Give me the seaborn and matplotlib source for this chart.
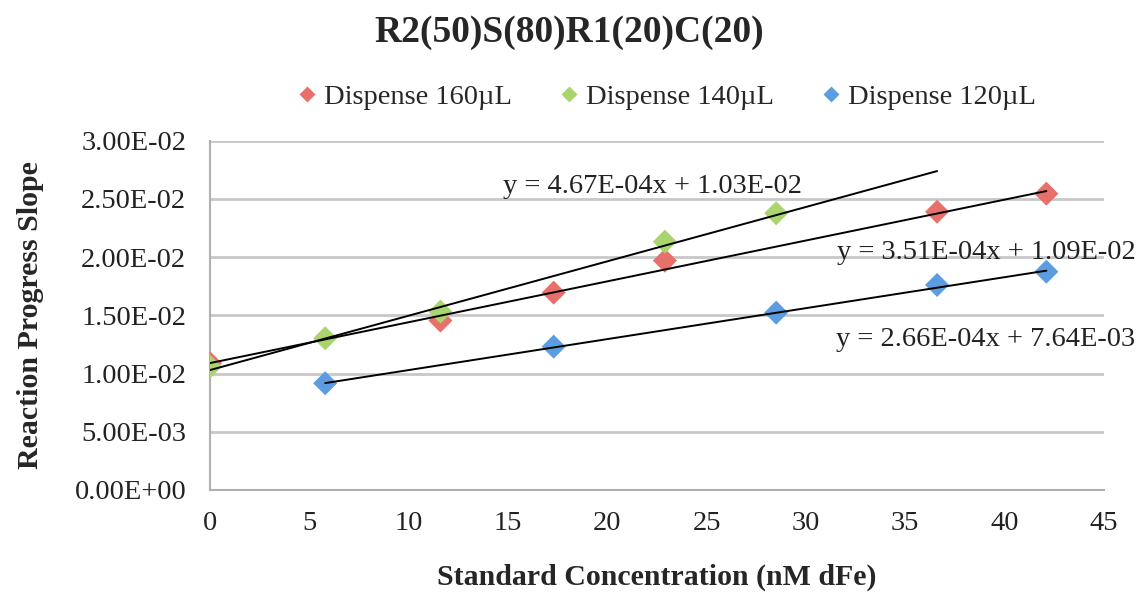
import numpy as np
import pandas as pd
import matplotlib
matplotlib.use("Agg")
import matplotlib.pyplot as plt
import seaborn as sns

# data
x_160 = [0, 11.6, 17.3, 22.9, 36.6, 42.1]
y_160 = [0.0109, 0.01455, 0.01695, 0.0197, 0.0239, 0.02545]
x_140 = [0, 5.8, 11.6, 22.9, 28.5]
y_140 = [0.0106, 0.01303, 0.01532, 0.02133, 0.02377]
x_120 = [5.8, 17.3, 28.5, 36.6, 42.1]
y_120 = [0.00917, 0.01231, 0.01523, 0.01761, 0.01875]

series_names = ["Dispense 160µL", "Dispense 140µL", "Dispense 120µL"]
series_colors = ["#E8706A", "#A9D46E", "#5C9CE0"]

# linear trendlines as printed on the chart
trend_slope = [3.51e-4, 4.67e-4, 2.66e-4]
trend_icpt = [1.09e-2, 1.03e-2, 7.64e-3]
trend_xmin = [0, 0, 5.8]
trend_xmax = [42.1, 36.6, 42.1]
trend_labels = ["y = 3.51E-04x + 1.09E-02",
                "y = 4.67E-04x + 1.03E-02",
                "y = 2.66E-04x + 7.64E-03"]

df = pd.concat([
    pd.DataFrame({"x": x_160, "y": y_160, "series": series_names[0]}),
    pd.DataFrame({"x": x_140, "y": y_140, "series": series_names[1]}),
    pd.DataFrame({"x": x_120, "y": y_120, "series": series_names[2]}),
], ignore_index=True)

sns.set_style("white")
plt.rcParams["font.family"] = ["Liberation Serif", "DejaVu Serif"]

fig = plt.figure(figsize=(11.38, 5.92), dpi=100)
ax = fig.add_axes([0.1845, 0.1723, 0.7856, 0.59])

sns.scatterplot(data=df, x="x", y="y", hue="series", hue_order=series_names,
                palette=series_colors, marker="D", s=150, edgecolor="none",
                ax=ax, zorder=3, legend=True)

for k in range(3):
    xs = np.array([trend_xmin[k], trend_xmax[k]])
    ax.plot(xs, trend_slope[k] * xs + trend_icpt[k], color="black", lw=1.4, zorder=4)

ax.set_xlim(0, 45)
ax.set_ylim(0, 0.03)
ax.set_xticks(np.arange(0, 46, 5))
ax.set_yticks(np.arange(0, 0.0301, 0.005))
ax.yaxis.set_major_formatter(matplotlib.ticker.FuncFormatter(
    lambda v, p: f"{v:.2E}"))
ax.yaxis.grid(True, color="#c8c8c8", lw=2)
ax.set_axisbelow(True)
for side in ["top", "right"]:
    ax.spines[side].set_visible(False)
for side in ["left", "bottom"]:
    ax.spines[side].set_color("#b0b0b0")
    ax.spines[side].set_linewidth(1.5)
ax.tick_params(axis="both", direction="out", length=7, width=1.5,
               color="#b0b0b0", labelsize=20.5, labelcolor="#222222")
ax.tick_params(axis="x", pad=8)
ax.tick_params(axis="y", pad=10)

ax.set_xlabel("Standard Concentration (nM dFe)", fontsize=21.5, fontweight="bold",
              labelpad=20)
ax.set_ylabel("Reaction Progress Slope", fontsize=21.5, fontweight="bold", labelpad=22)

ax.text(0.328, 0.87, trend_labels[1], transform=ax.transAxes, fontsize=20.5,
        ha="left", va="center", color="#222222")
ax.text(1.035, 0.68, trend_labels[0], transform=ax.transAxes, fontsize=20.5,
        ha="right", va="center", color="#222222")
ax.text(1.035, 0.43, trend_labels[2], transform=ax.transAxes, fontsize=20.5,
        ha="right", va="center", color="#222222")

handles, labels = ax.get_legend_handles_labels()
ax.legend(handles, labels, loc="center", bbox_to_anchor=(0.5, 1.125), ncol=3,
          frameon=False, fontsize=20.5, handletextpad=-0.4, columnspacing=1.0,
          markerscale=0.65)

fig.text(0.5, 0.945, "R2(50)S(80)R1(20)C(20)", ha="center", va="center",
         fontsize=27, fontweight="bold")

fig.savefig("out.png", dpi=100)
